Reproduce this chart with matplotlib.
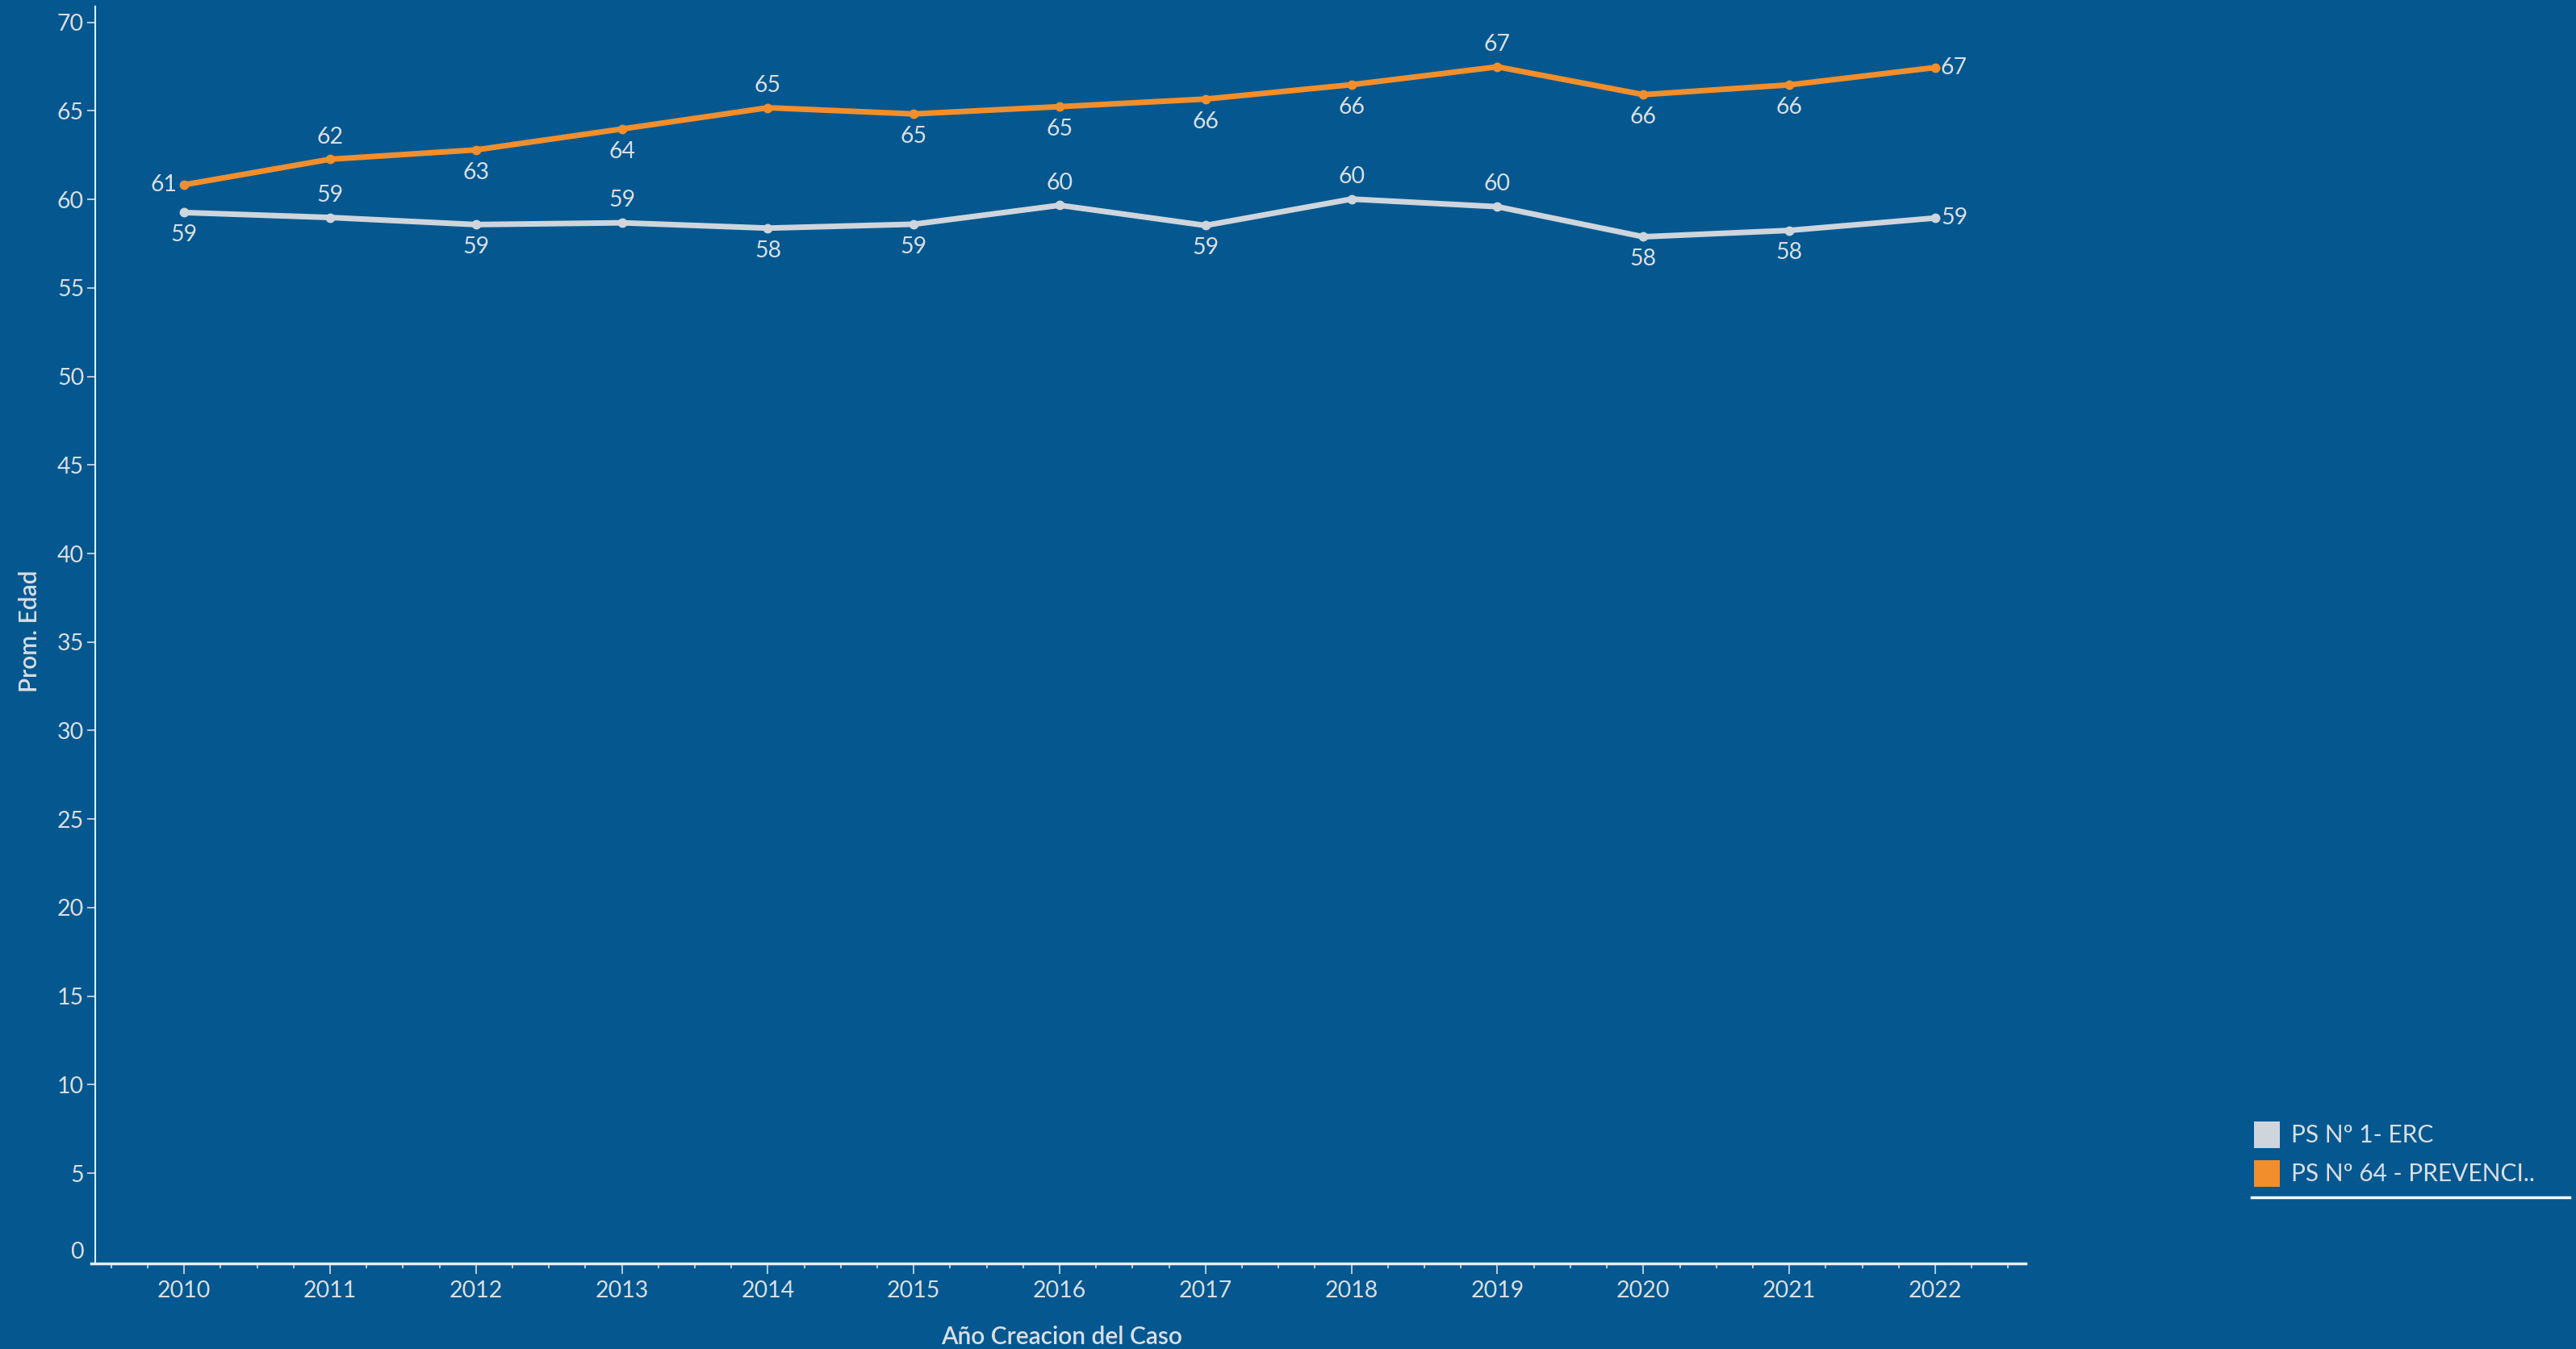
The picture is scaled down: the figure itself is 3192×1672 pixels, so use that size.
import matplotlib
matplotlib.use("Agg")
import matplotlib.pyplot as plt
import matplotlib.transforms as mtransforms
from matplotlib.ticker import MultipleLocator
from matplotlib.lines import Line2D
from matplotlib.patches import Rectangle

# data
years = [2010, 2011, 2012, 2013, 2014, 2015, 2016, 2017, 2018, 2019, 2020, 2021, 2022]
erc = [59.26, 58.98, 58.58, 58.68, 58.38, 58.60, 59.67, 58.53, 60.02, 59.59, 57.89, 58.25, 58.95]
prev = [60.83, 62.27, 62.80, 63.98, 65.18, 64.83, 65.24, 65.67, 66.48, 67.49, 65.92, 66.47, 67.45]
# where each data label sits: a = above, b = below, l = left, r = right
erc_pos = ["b", "a", "b", "a", "b", "b", "a", "b", "a", "a", "b", "b", "r"]
prev_pos = ["l", "a", "b", "b", "a", "b", "b", "b", "b", "a", "b", "b", "r"]
series_names = ["PS N\u00ba 1- ERC", "PS N\u00ba 64 - PREVENCI.."]
y_ticks = list(range(0, 71, 5))

BG = "#05588f"
TXT = "#d9dfe6"
GREY = "#cfd5dd"
ORANGE = "#f28e2b"
plt.rcParams['font.family'] = ['Lato', 'DejaVu Sans']

W, H = 3192, 1672
fig = plt.figure(figsize=(W / 100, H / 100), dpi=100, facecolor=BG)
ax = fig.add_axes([118 / W, 1 - 1566 / H, (2510 - 118) / W, (1566 - 8) / H])
ax.set_facecolor(BG)

ax.plot(years, erc, color=GREY, lw=5, marker="o", ms=7.5, zorder=3)
ax.plot(years, prev, color=ORANGE, lw=5, marker="o", ms=7.5, zorder=3)

offs = {"a": (0, 20, "center"), "b": (0, -20, "center"),
        "l": (-6, 0, "right"), "r": (5, 0, "left")}
for vals, pos in [(erc, erc_pos), (prev, prev_pos)]:
    for x, v, p in zip(years, vals, pos):
        dx, dy, ha = offs[p]
        ax.annotate(str(int(round(v))), (x, v), xytext=(dx, dy), textcoords="offset points",
                    ha=ha, va="center", color=TXT, fontsize=20.5)

ax.set_xlim(2009.39, 2022.62)
ax.set_ylim(-0.1, 70.9)
ax.set_yticks(y_ticks)
ax.set_xticks(years)
ax.xaxis.set_minor_locator(MultipleLocator(0.25))

for s in ["top", "right"]:
    ax.spines[s].set_visible(False)
ax.spines["left"].set_color("#e8edf2")
ax.spines["left"].set_linewidth(1.5)
ax.spines["bottom"].set_color("#e8edf2")
ax.spines["bottom"].set_linewidth(2.5)
ax.spines["bottom"].set_bounds(2009.36, 2022.62)

ax.tick_params(axis="y", colors=TXT, labelsize=20.5, length=7, width=1.2, pad=3)
ax.tick_params(axis="x", which="major", colors=TXT, labelsize=20.5, length=9, width=1.2, pad=6)
ax.tick_params(axis="x", which="minor", colors=TXT, length=4, width=1.2)
for lab in ax.get_yticklabels():
    if lab.get_text() in ("0", "\u2212" + "0"):
        lab.set_transform(lab.get_transform() + mtransforms.ScaledTranslation(0, 14 / 100, fig.dpi_scale_trans))
ax.yaxis.get_major_ticks()[0].tick1line.set_visible(False)

fig.text(1315 / W, 1 - 1657 / H, "A\u00f1o Creacion del Caso", color=TXT, fontsize=21.5,
         fontweight="semibold", ha="center", va="center")
fig.text(37 / W, 1 - 782 / H, "Prom. Edad", color=TXT, fontsize=21.5, fontweight="semibold",
         rotation=90, ha="center", va="center")

# legend drawn by hand, tableau style
for i, (name, col) in enumerate(zip(series_names, [GREY, ORANGE])):
    yc = 1407 + i * 48
    fig.patches.append(Rectangle((2793 / W, 1 - (yc + 16) / H), 32 / W, 33 / H,
                                 transform=fig.transFigure, facecolor=col, edgecolor="none"))
    fig.text(2839 / W, 1 - yc / H, name, color=TXT, fontsize=21.5, ha="left", va="center")
fig.lines.append(Line2D([2790 / W, 3184 / W], [1 - 1484 / H, 1 - 1484 / H],
                        transform=fig.transFigure, color="white", lw=2.5))

fig.savefig("out.png", dpi=100, facecolor=BG)
